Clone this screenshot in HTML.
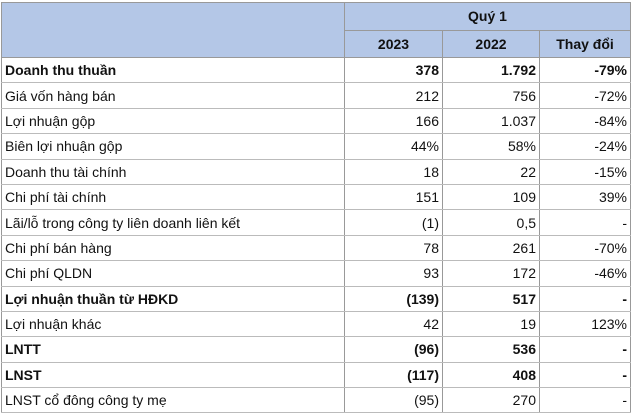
<!DOCTYPE html>
<html><head><meta charset="utf-8"><style>
html,body{margin:0;padding:0;background:#fff;width:633px;height:414px;overflow:hidden}
table{position:absolute;left:1px;top:2px;border-collapse:collapse;table-layout:fixed;font-family:"Liberation Sans",sans-serif;font-size:14px;color:#111;border:1.5px solid #666}
td{border:1px solid #999;padding:0 3px;white-space:nowrap;height:25.4px;box-sizing:border-box;overflow:hidden}
td.n{text-align:right}
tr.h td{background:#b4c7e7;text-align:center;font-weight:bold;height:27.5px}
tr.b td{font-weight:bold}
tr.d td{border-top:1px solid #bbb;border-bottom:1px solid #bbb}
</style></head><body>
<table>
<colgroup><col style="width:343px"><col style="width:98px"><col style="width:97px"><col style="width:91px"></colgroup>
<tr class="h"><td rowspan="2"></td><td colspan="3">Quý 1</td></tr>
<tr class="h"><td>2023</td><td>2022</td><td>Thay đổi</td></tr>
<tr class="b d"><td>Doanh thu thuần</td><td class="n">378</td><td class="n">1.792</td><td class="n">-79%</td></tr>
<tr class="d"><td>Giá vốn hàng bán</td><td class="n">212</td><td class="n">756</td><td class="n">-72%</td></tr>
<tr class="d"><td>Lợi nhuận gộp</td><td class="n">166</td><td class="n">1.037</td><td class="n">-84%</td></tr>
<tr class="d"><td>Biên lợi nhuận gộp</td><td class="n">44%</td><td class="n">58%</td><td class="n">-24%</td></tr>
<tr class="d"><td>Doanh thu tài chính</td><td class="n">18</td><td class="n">22</td><td class="n">-15%</td></tr>
<tr class="d"><td>Chi phí tài chính</td><td class="n">151</td><td class="n">109</td><td class="n">39%</td></tr>
<tr class="d"><td>Lãi/lỗ trong công ty liên doanh liên kết</td><td class="n">(1)</td><td class="n">0,5</td><td class="n">-</td></tr>
<tr class="d"><td>Chi phí bán hàng</td><td class="n">78</td><td class="n">261</td><td class="n">-70%</td></tr>
<tr class="d"><td>Chi phí QLDN</td><td class="n">93</td><td class="n">172</td><td class="n">-46%</td></tr>
<tr class="b d"><td>Lợi nhuận thuần từ HĐKD</td><td class="n">(139)</td><td class="n">517</td><td class="n">-</td></tr>
<tr class="d"><td>Lợi nhuận khác</td><td class="n">42</td><td class="n">19</td><td class="n">123%</td></tr>
<tr class="b d"><td>LNTT</td><td class="n">(96)</td><td class="n">536</td><td class="n">-</td></tr>
<tr class="b d"><td>LNST</td><td class="n">(117)</td><td class="n">408</td><td class="n">-</td></tr>
<tr class="d"><td>LNST cổ đông công ty mẹ</td><td class="n">(95)</td><td class="n">270</td><td class="n">-</td></tr>
</table>
</body></html>
